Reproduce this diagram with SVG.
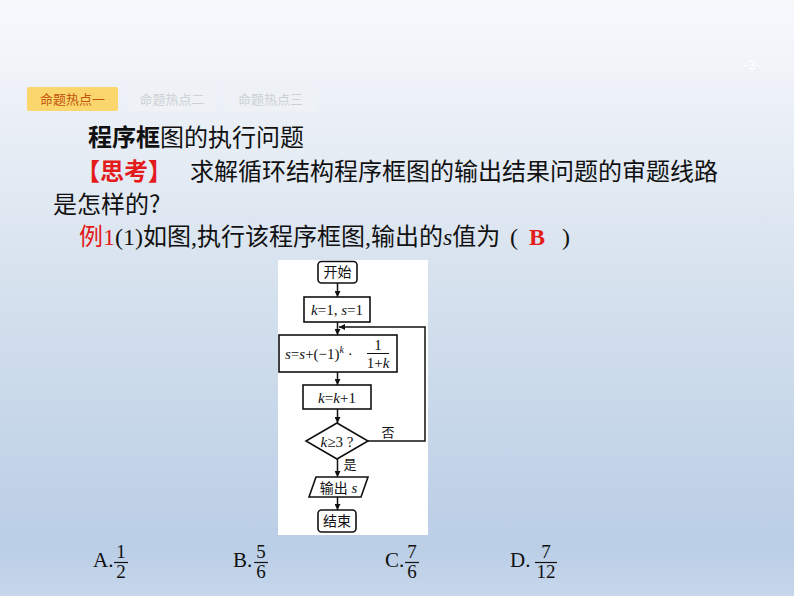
<svg xmlns="http://www.w3.org/2000/svg" width="794" height="596" viewBox="0 0 794 596">
<defs>
<linearGradient id="bg" x1="0" y1="0" x2="0" y2="1">
<stop offset="0" stop-color="#f6f9fc"/>
<stop offset="0.15" stop-color="#eef2f8"/>
<stop offset="0.5" stop-color="#d4e0ed"/>
<stop offset="0.92" stop-color="#bacee6"/>
<stop offset="1" stop-color="#c6d7eb"/>
</linearGradient>
<marker id="ah" viewBox="0 0 10 10" refX="10" refY="5" markerWidth="6" markerHeight="6" markerUnits="userSpaceOnUse" orient="auto">
<path d="M0,0 L10,5 L0,10 Z" fill="#111"/>
</marker>
<style>
.cjk{font-family:"Noto Sans CJK SC","Liberation Sans",sans-serif}
.ser{font-family:"Liberation Serif","Noto Sans CJK SC",serif}
.box{fill:#fff;stroke:#111;stroke-width:1.6}
.ln{fill:none;stroke:#111;stroke-width:1.5}
.fl{font-size:15px;fill:#111;text-anchor:middle}
.fc{font-size:14px;fill:#111;text-anchor:middle}
.tab{fill:#eef1f5}
.tabt{font-size:13px;fill:#cdd1d7;text-anchor:middle}
.opt{font-family:"Liberation Serif",serif;font-size:21px;fill:#111}
.num{font-family:"Liberation Serif",serif;font-size:19px;fill:#111;text-anchor:middle}
</style>
</defs>
<rect x="0" y="0" width="794" height="596" fill="url(#bg)"/>
<text x="752" y="70" font-family="Liberation Sans,sans-serif" font-size="14" fill="#ffffff" text-anchor="middle">-3-</text>

<g id="tab1"><rect x="27" y="87" width="91" height="24" rx="2" fill="#fbd66c"/><text class="cjk" x="72.5" y="104" font-size="13" fill="#c2560f" text-anchor="middle">命题热点一</text></g>
<g id="tab2"><rect class="tab" x="127" y="87" width="90" height="24" rx="2"/><text class="cjk tabt" x="172" y="104">命题热点二</text></g>
<g id="tab3"><rect class="tab" x="225" y="87" width="91" height="24" rx="2"/><text class="cjk tabt" x="270.5" y="104">命题热点三</text></g>

<text class="cjk" x="88" y="146" font-size="24" fill="#111"><tspan font-weight="bold">程序框</tspan>图的执行问题</text>
<text class="cjk" x="76" y="180" font-size="24" fill="#e31b1b" font-weight="bold">【思考】</text>
<text class="cjk" x="190" y="180" font-size="24" fill="#111">求解循环结构程序框图的输出结果问题的审题线路</text>
<text class="cjk" x="53" y="213" font-size="24" fill="#111">是怎样的?</text>
<text x="79" y="245" font-size="24" fill="#111"><tspan class="cjk" fill="#e31b1b">例</tspan><tspan class="ser" fill="#e31b1b">1</tspan><tspan class="ser">(1)</tspan><tspan class="cjk">如图</tspan><tspan class="ser">,</tspan><tspan class="cjk">执行该程序框图</tspan><tspan class="ser">,</tspan><tspan class="cjk">输出的</tspan><tspan class="ser" font-style="italic">s</tspan><tspan class="cjk">值为</tspan><tspan class="ser" x="510">(</tspan><tspan class="ser" x="529" fill="#e31b1b" font-weight="bold">B</tspan><tspan class="ser" x="562">)</tspan></text>

<rect id="panel" x="278" y="260" width="150" height="275" fill="#fff"/>

<g id="start"><rect class="box" x="318" y="261.5" width="39" height="21.5" rx="3.5"/><text class="cjk fc" x="337.5" y="277">开始</text></g>
<g id="init"><rect class="box" x="304" y="297" width="66" height="25"/><text class="ser fl" x="337" y="315"><tspan font-style="italic">k</tspan>=1, <tspan font-style="italic">s</tspan>=1</text></g>
<g id="update"><rect class="box" x="279" y="335" width="118" height="37"/>
<text class="ser" x="285" y="359" font-size="15" fill="#111"><tspan font-style="italic">s</tspan>=<tspan font-style="italic">s</tspan>+(−1)<tspan font-style="italic" font-size="10" dy="-6">k</tspan><tspan dy="6"> ·</tspan></text>
<text class="ser fl" x="378" y="350">1</text><line x1="367" y1="353.5" x2="389" y2="353.5" stroke="#111" stroke-width="1"/><text class="ser fl" x="378" y="368">1+<tspan font-style="italic">k</tspan></text></g>
<g id="inc"><rect class="box" x="303" y="385" width="68" height="24"/><text class="ser fl" x="337" y="402.5"><tspan font-style="italic">k</tspan>=<tspan font-style="italic">k</tspan>+1</text></g>
<g id="cond"><polygon class="box" points="337,423 368,441 337,459 306,441"/><text class="ser fl" x="337" y="446.5"><tspan font-style="italic">k</tspan>≥3 ?</text></g>
<g id="out"><polygon class="box" points="316,477 368,477 361,497 309,497"/><text class="fc" x="338.5" y="492.5"><tspan class="cjk">输出</tspan><tspan class="ser" font-style="italic" font-size="15"> s</tspan></text></g>
<g id="end"><rect class="box" x="318" y="510" width="38" height="22" rx="3.5"/><text class="cjk fc" x="337" y="526">结束</text></g>

<g id="connectors">
<line class="ln" x1="337.5" y1="283" x2="337.5" y2="297" marker-end="url(#ah)"/>
<line class="ln" x1="337.5" y1="322" x2="337.5" y2="335" marker-end="url(#ah)"/>
<line class="ln" x1="337.5" y1="372" x2="337.5" y2="385" marker-end="url(#ah)"/>
<line class="ln" x1="337.5" y1="409" x2="337.5" y2="423" marker-end="url(#ah)"/>
<line class="ln" x1="337.5" y1="459" x2="337.5" y2="477" marker-end="url(#ah)"/>
<line class="ln" x1="337.5" y1="497" x2="337.5" y2="510" marker-end="url(#ah)"/>
<polyline class="ln" points="368,441 425,441 425,327 339,327" marker-end="url(#ah)"/>
<text class="cjk" x="388" y="437" font-size="13" fill="#111" text-anchor="middle">否</text>
<text class="cjk" x="350" y="469" font-size="13" fill="#111" text-anchor="middle">是</text>
</g>

<g id="options">
<text class="opt" x="93" y="567">A.</text><text class="num" x="121" y="558">1</text><line x1="114" y1="562.5" x2="128" y2="562.5" stroke="#111" stroke-width="1.2"/><text class="num" x="121" y="578">2</text>
<text class="opt" x="233" y="567">B.</text><text class="num" x="261" y="558">5</text><line x1="254" y1="562.5" x2="268" y2="562.5" stroke="#111" stroke-width="1.2"/><text class="num" x="261" y="578">6</text>
<text class="opt" x="385" y="567">C.</text><text class="num" x="412" y="558">7</text><line x1="405" y1="562.5" x2="419" y2="562.5" stroke="#111" stroke-width="1.2"/><text class="num" x="412" y="578">6</text>
<text class="opt" x="510" y="567">D.</text><text class="num" x="546" y="558">7</text><line x1="535" y1="562.5" x2="557" y2="562.5" stroke="#111" stroke-width="1.2"/><text class="num" x="546" y="578">12</text>
</g>
</svg>
